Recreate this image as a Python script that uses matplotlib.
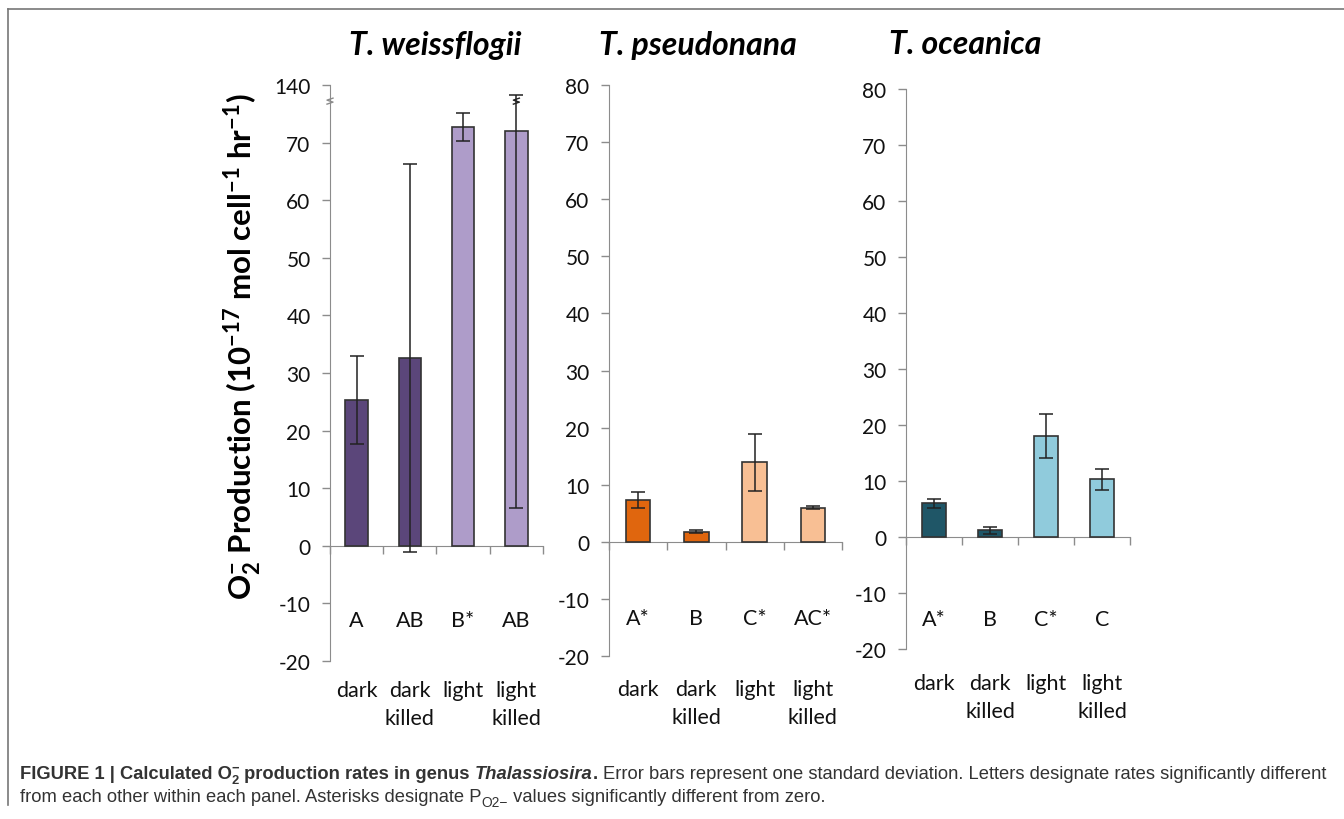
import matplotlib
matplotlib.use("Agg")
import matplotlib.pyplot as plt
import matplotlib.transforms as mtransforms
from matplotlib.lines import Line2D
import numpy as np

plt.rcParams['font.family'] = ['Lato', 'DejaVu Sans']
plt.rcParams['mathtext.fontset'] = 'custom'
plt.rcParams['mathtext.rm'] = 'Lato'
plt.rcParams['mathtext.bf'] = 'Lato:bold'
plt.rcParams['axes.unicode_minus'] = False

# data (10^-17 mol cell^-1 hr^-1)
categories = ["dark", "dark\nkilled", "light", "light\nkilled"]
species = ["T. weissflogii", "T. pseudonana", "T. oceanica"]

weiss_mean = [25.3, 32.6, 72.7, 72.0]
weiss_sd = [7.6, 33.6, 2.4, 65.5]
pseudo_mean = [7.4, 1.8, 13.9, 6.0]
pseudo_sd = [1.4, 0.2, 5.0, 0.3]
ocean_mean = [6.0, 1.2, 18.0, 10.3]
ocean_sd = [0.8, 0.6, 3.9, 1.9]

weiss_letters = ["A", "AB", "B*", "AB"]
pseudo_letters = ["A*", "B", "C*", "AC*"]
ocean_letters = ["A*", "B", "C*", "C"]

# panel 1 has a broken y axis: top tick 80 is labelled 140
weiss_ticklabels = ["-20", "-10", "0", "10", "20", "30", "40", "50", "60", "70", "140"]
break_at = 77.2

colors = [("#5B467A", "#AE9CC9"), ("#E0660E", "#F8BF94"), ("#1F5667", "#90CBDC")]

fig = plt.figure(figsize=(13.44, 8.2), dpi=100)

boxes = [
    [330/1344, 1-662/820, 213/1344, 576/820],
    [609/1344, 1-657/820, 233/1344, 571/820],
    [906/1344, 1-650/820, 224/1344, 560/820],
]
means = [weiss_mean, pseudo_mean, ocean_mean]
sds = [weiss_sd, pseudo_sd, ocean_sd]
letters = [weiss_letters, pseudo_letters, ocean_letters]
letter_y = [-12.9, -13.4, -14.6]
cat_y = [-0.033, -0.041, -0.042]
title_x = [435, 698, 965]

axes = []
for i in range(3):
    ax = fig.add_axes(boxes[i])
    axes.append(ax)
    m = np.array(means[i])
    s = np.array(sds[i])
    x = np.arange(4) + 0.5
    bar_colors = [colors[i][0], colors[i][0], colors[i][1], colors[i][1]]
    ax.bar(x, m, width=0.42, color=bar_colors, edgecolor="#333333", linewidth=1.2, zorder=3)
    upper = np.minimum(m + s, break_at + 1.1 if i == 0 else 1e9) - m
    ax.errorbar(x, m, yerr=[s, upper], fmt="none", ecolor="#222222",
                elinewidth=1.1, capsize=5, capthick=1.1, zorder=4)
    ax.set_xlim(0, 4)
    ax.set_ylim(-20, 80)
    ax.set_yticks(np.arange(-20, 81, 10))
    if i == 0:
        ax.set_yticklabels(weiss_ticklabels)
    ax.tick_params(axis="y", direction="out", length=6, width=1, color="#8C8C8C",
                   labelsize=15, pad=8, labelcolor="#111111")
    ax.set_xticks(np.arange(5))
    ax.set_xticklabels([])
    ax.tick_params(axis="x", direction="out", length=6, width=1, color="#8C8C8C")
    for sp in ["top", "right"]:
        ax.spines[sp].set_visible(False)
    ax.spines["bottom"].set_position(("data", 0))
    ax.spines["left"].set_color("#8C8C8C")
    ax.spines["bottom"].set_color("#8C8C8C")
    ax.patch.set_alpha(0)

    trans = mtransforms.blended_transform_factory(ax.transData, ax.transAxes)
    for k in range(4):
        ax.text(x[k], letter_y[i], letters[i][k], ha="center", va="center",
                fontsize=15.5, color="#111111")
        ax.text(x[k], cat_y[i], categories[k], transform=trans, ha="center", va="top",
                fontsize=15.5, color="#111111", linespacing=1.5)
    fig.text(title_x[i]/1344, 1-45/820, species[i], ha="center", va="center",
             fontsize=23, fontweight="bold", fontstyle="italic", color="#000000")

# break marks on panel 1 (y axis and light-killed error bar)
ax = axes[0]
tr = ax.transData
inv = fig.transFigure.inverted()
for xb in [0, 3.5]:
    px, py = tr.transform((xb, break_at))
    pts = [(px - 3, py - 3), (px + 3, py - 1), (px - 3, py + 1), (px + 3, py + 3)]
    fx, fy = zip(*[inv.transform(p) for p in pts])
    fig.add_artist(Line2D(fx, fy, color="#8C8C8C" if xb == 0 else "#222222", lw=1))

fig.text(242/1344, 1-347/820,
         r"O$_\mathbf{2}^\mathbf{-}$ Production (10$^\mathbf{-17}$ mol cell$^\mathbf{-1}$ hr$^\mathbf{-1}$)",
         rotation=90, ha="center", va="center", fontsize=22.5, fontweight="bold")

# frame around figure (top and left)
fig.add_artist(Line2D([8/1344, 8/1344], [1-806/820, 1-10/820], color="#777777", lw=1.2))
fig.add_artist(Line2D([8/1344, 1], [1-10/820, 1-10/820], color="#777777", lw=1.2))

# caption with mixed weights
fig.canvas.draw()
renderer = fig.canvas.get_renderer()
cap_font = ["Liberation Sans Narrow", "Liberation Sans", "DejaVu Sans"]
cap_color = "#333333"
cap_size = 13.2


def put_line(pieces, x0, y0):
    xpos = x0
    for txt, weight, style, size, dy, adv in pieces:
        t = fig.text(xpos/1344, 1-(y0 - dy)/820, txt, fontsize=size, fontweight=weight,
                     fontstyle=style, family=cap_font, color=cap_color, va="baseline", ha="left")
        bb = t.get_window_extent(renderer)
        if adv:
            xpos += bb.width


line1 = [
    ("FIGURE 1 | Calculated O", "bold", "normal", cap_size, 0, True),
    ("2", "bold", "normal", cap_size*0.7, -5, False),
    ("\u2212", "bold", "normal", cap_size*0.7, 7, True),
    (" production rates in genus ", "bold", "normal", cap_size, 0, True),
    ("Thalassiosira", "bold", "italic", cap_size, 0, True),
    (". ", "bold", "normal", cap_size, 0, True),
    ("Error bars represent one standard deviation. Letters designate rates significantly different",
     "normal", "normal", cap_size, 0, True),
]
line2 = [
    ("from each other within each panel. Asterisks designate P", "normal", "normal", cap_size, 0, True),
    ("O2\u2212", "normal", "normal", cap_size*0.75, -5, True),
    (" values significantly different from zero.", "normal", "normal", cap_size, 0, True),
]
put_line(line1, 20, 779)
put_line(line2, 20, 802)

fig.savefig("out.png", dpi=100)
